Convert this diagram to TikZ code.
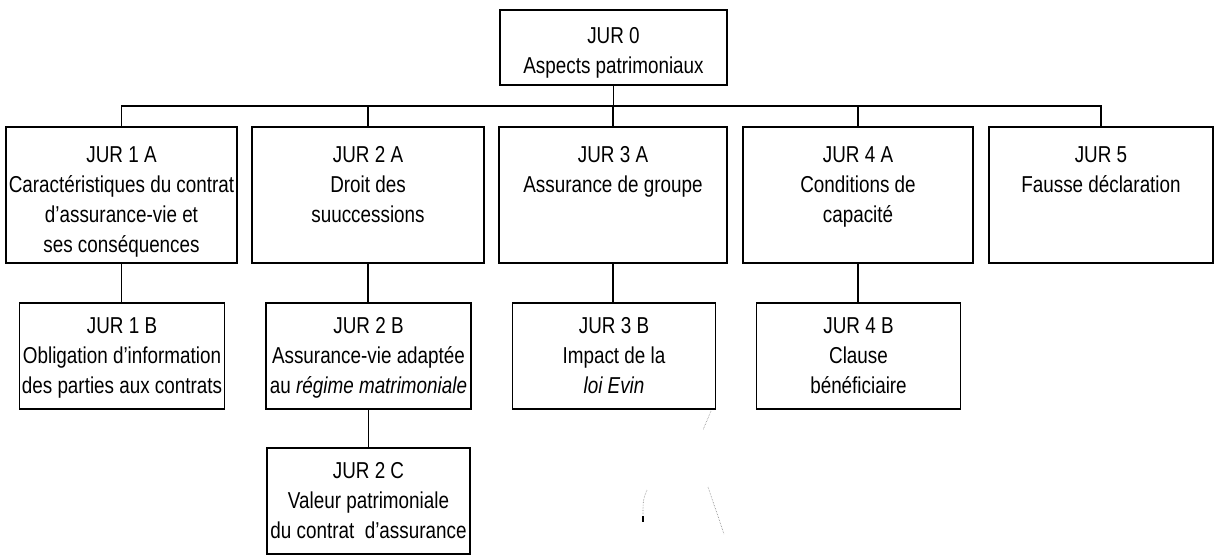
\documentclass[tikz,border=0pt]{standalone}
\usepackage{fontspec}
\setmainfont[FakeStretch=0.82]{Liberation Sans}
\begin{document}
\begin{tikzpicture}[x=1pt,y=-1pt,
  box/.style={draw, line width=1.2pt, rectangle, inner sep=0pt},
  txt/.style={font=\fontsize{23}{30}\selectfont, align=center, inner sep=0pt, anchor=north},
  conn/.style={line width=1.1pt},
  noise/.style={line width=0.6pt, gray, densely dotted}]
\useasboundingbox (0,0) rectangle (1216,557);

% boxes
\node[box, minimum width=227pt, minimum height=75pt] (j0) at (613.5,47.5) {};
\node[box, minimum width=231pt, minimum height=136pt] (j1a) at (121.5,195) {};
\node[box, minimum width=232pt, minimum height=136pt] (j2a) at (368,195) {};
\node[box, minimum width=228pt, minimum height=136pt] (j3a) at (613,195) {};
\node[box, minimum width=230pt, minimum height=136pt] (j4a) at (858,195) {};
\node[box, minimum width=224pt, minimum height=136pt] (j5) at (1101,195) {};
\node[box, minimum width=205pt, minimum height=106pt] (j1b) at (122,356) {};
\node[box, minimum width=205pt, minimum height=106pt] (j2b) at (368.5,356) {};
\node[box, minimum width=203pt, minimum height=106pt] (j3b) at (614,356) {};
\node[box, minimum width=204pt, minimum height=106pt] (j4b) at (858.5,356) {};
\node[box, minimum width=203pt, minimum height=106pt] (j2c) at (368.5,501) {};

% texts
\node[txt] (t0) at ([yshift=-18pt]j0.north) {JUR 0\\Aspects patrimoniaux};
\node[txt] (t1a) at ([yshift=-20pt]j1a.north) {JUR 1 A\\Caractéristiques du contrat\\d'assurance-vie et\\ses conséquences};
\node[txt] (t2a) at ([yshift=-20pt]j2a.north) {JUR 2 A\\Droit des\\suuccessions};
\node[txt] (t3a) at ([yshift=-20pt]j3a.north) {JUR 3 A\\Assurance de groupe};
\node[txt] (t4a) at ([yshift=-20pt]j4a.north) {JUR 4 A\\Conditions de\\capacité};
\node[txt] (t5) at ([yshift=-20pt]j5.north) {JUR 5\\Fausse déclaration};
\node[txt] (t1b) at ([yshift=-15pt]j1b.north) {JUR 1 B\\Obligation d'information\\des parties aux contrats};
\node[txt] (t2b) at ([yshift=-15pt]j2b.north) {JUR 2 B\\Assurance-vie adaptée\\au \textit{régime matrimoniale}};
\node[txt] (t3b) at ([yshift=-15pt]j3b.north) {JUR 3 B\\Impact de la\\\textit{loi Evin}};
\node[txt] (t4b) at ([yshift=-15pt]j4b.north) {JUR 4 B\\Clause\\bénéficiaire};
\node[txt] (t2c) at ([yshift=-15pt]j2c.north) {JUR 2 C\\Valeur patrimoniale\\du contrat\ \ d'assurance};

% connectors
\coordinate (bus) at (613.5,106);
\draw[conn] (j0.south) -- (bus);
\draw[conn] (bus) -| (j1a.north);
\draw[conn] (bus) -| (j2a.north);
\draw[conn] (bus) -| (j3a.north);
\draw[conn] (bus) -| (j4a.north);
\draw[conn] (bus) -| (j5.north);
\draw[conn] (j1a.south) -- (j1a.south |- j1b.north);
\draw[conn] (j2a.south) -- (j2a.south |- j2b.north);
\draw[conn] (j3a.south) -- (j3a.south |- j3b.north);
\draw[conn] (j4a.south) -- (j4a.south |- j4b.north);
\draw[conn] (j2b.south) -- (j2b.south |- j2c.north);

% scan marks
\draw[noise] (711,411) -- (703,430);
\draw[noise] (647,490) .. controls (643,500) .. (643,515);
\draw[line width=1.4pt, black] (643,516) -- (643,522);
\draw[noise] (708,487) -- (724,534);
\end{tikzpicture}
\end{document}
